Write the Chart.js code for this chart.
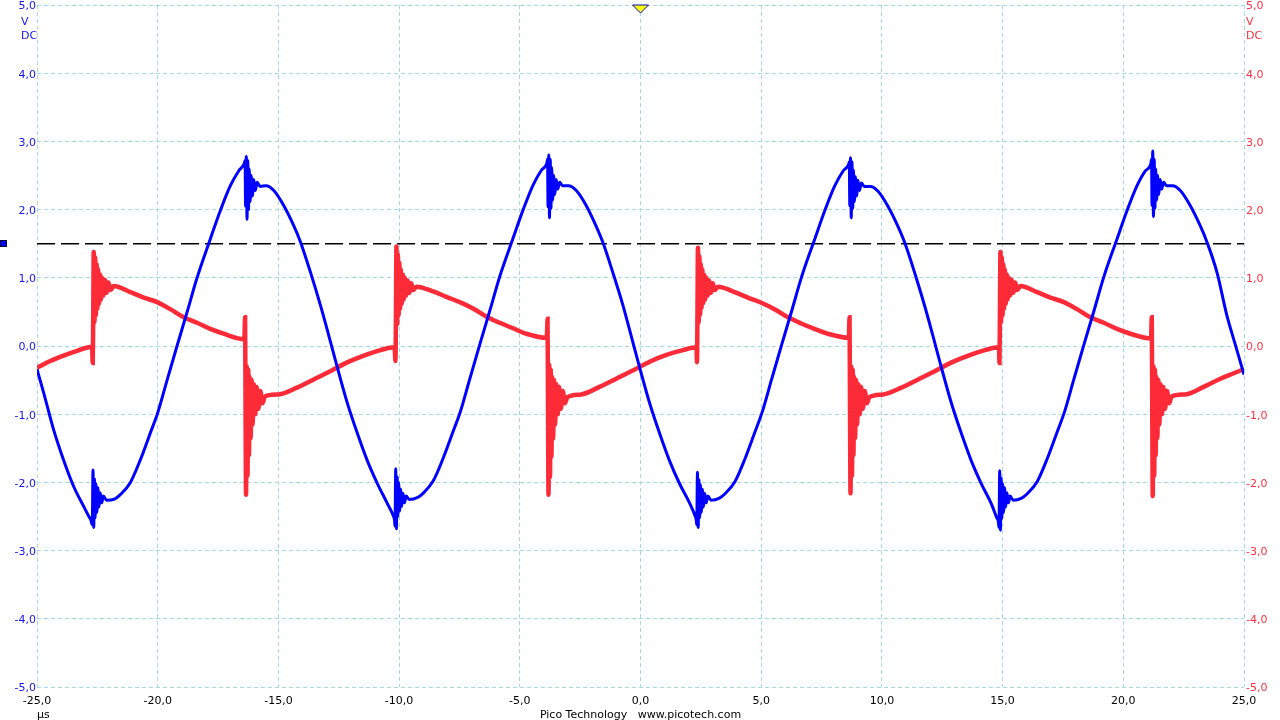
<!DOCTYPE html>
<html>
<head>
<meta charset="utf-8">
<script src="https://cdn.jsdelivr.net/npm/chart.js@4.4.1/dist/chart.umd.min.js"></script>
<style>
  html, body { margin: 0; padding: 0; background: #fff; }
  #scope { display: block; }
</style>
</head>
<body>
<canvas id="scope" width="1280" height="720"></canvas>
<script>
// ── Data (time in µs, volts) ─────────────────────────
const xTickLabels = ['-25,0', '-20,0', '-15,0', '-10,0', '-5,0', '0,0', '5,0', '10,0', '15,0', '20,0', '25,0'];
const yTickLabels = ['-5,0', '-4,0', '-3,0', '-2,0', '-1,0', '0,0', '1,0', '2,0', '3,0', '4,0', '5,0'];
const triggerLevel = 1.5;
const triggerTime = 0;

// Channel A (blue)
const blueTrace = [
  [-25, -0.34], [-24.72, -0.69], [-24.31, -1.23], [-23.9, -1.67], [-23.48, -2.06], [-23.07, -2.35], [-22.85, -2.5],
  // cycle 1
  [-22.77, -2.55], [-22.71, -2.62], [-22.68, -1.82], [-22.65, -2.66], [-22.62, -1.95], [-22.59, -2.52], [-22.56, -2.02],
  [-22.52, -2.44], [-22.48, -2.08], [-22.43, -2.36], [-22.38, -2.15], [-22.32, -2.3], [-22.25, -2.2], [-22.12, -2.26],
  [-21.77, -2.24], [-21.55, -2.18], [-21.13, -2.0], [-20.72, -1.67], [-20.3, -1.27], [-20.0, -0.98], [-19.61, -0.5],
  [-19.2, 0.0], [-18.78, 0.5], [-18.37, 1.0], [-17.82, 1.57], [-17.4, 1.99], [-16.99, 2.35], [-16.64, 2.57], [-16.42, 2.67],
  [-16.38, 2.72], [-16.36, 2.05], [-16.33, 2.78], [-16.3, 1.86], [-16.27, 2.72], [-16.24, 2.0], [-16.21, 2.6],
  [-16.17, 2.12], [-16.13, 2.5], [-16.08, 2.2], [-16.02, 2.44], [-15.96, 2.28], [-15.88, 2.4], [-15.76, 2.34],
  [-15.51, 2.35], [-15.19, 2.28], [-14.78, 2.06], [-14.36, 1.76], [-14.09, 1.53], [-13.67, 1.08], [-13.26, 0.6],
  [-12.91, 0.15], [-12.57, -0.3], [-12.15, -0.83], [-11.74, -1.27], [-11.33, -1.67], [-10.91, -2.01], [-10.5, -2.3], [-10.23, -2.5],
  // cycle 2
  [-10.19, -2.55], [-10.17, -2.64], [-10.14, -1.8], [-10.11, -2.68], [-10.08, -1.92], [-10.05, -2.5], [-10.02, -2.0],
  [-9.98, -2.42], [-9.94, -2.1], [-9.89, -2.35], [-9.84, -2.16], [-9.78, -2.3], [-9.71, -2.2], [-9.58, -2.25],
  [-9.23, -2.22], [-9.01, -2.16], [-8.59, -1.98], [-8.18, -1.65], [-7.76, -1.25], [-7.46, -0.96], [-7.07, -0.48],
  [-6.66, 0.02], [-6.24, 0.52], [-5.83, 1.02], [-5.28, 1.58], [-4.86, 2.0], [-4.45, 2.36], [-4.1, 2.58], [-3.88, 2.68],
  [-3.85, 2.74], [-3.83, 2.04], [-3.8, 2.8], [-3.77, 1.88], [-3.74, 2.74], [-3.71, 2.02], [-3.68, 2.62],
  [-3.64, 2.14], [-3.6, 2.5], [-3.55, 2.22], [-3.49, 2.44], [-3.43, 2.3], [-3.35, 2.4], [-3.23, 2.35],
  [-2.98, 2.35], [-2.66, 2.28], [-2.25, 2.06], [-1.83, 1.75], [-1.56, 1.52], [-1.14, 1.07], [-0.73, 0.6],
  [-0.38, 0.14], [-0.04, -0.31], [0.38, -0.84], [0.79, -1.28], [1.2, -1.68], [1.62, -2.02], [2.03, -2.3], [2.27, -2.5],
  // cycle 3
  [2.31, -2.55], [2.33, -2.62], [2.36, -1.85], [2.39, -2.66], [2.42, -1.96], [2.45, -2.52], [2.48, -2.03],
  [2.52, -2.44], [2.56, -2.1], [2.61, -2.36], [2.66, -2.16], [2.72, -2.3], [2.79, -2.2], [2.92, -2.26],
  [3.27, -2.23], [3.49, -2.17], [3.91, -1.99], [4.32, -1.66], [4.74, -1.26], [5.04, -0.97], [5.43, -0.49],
  [5.84, 0.01], [6.26, 0.51], [6.67, 1.01], [7.22, 1.57], [7.64, 1.99], [8.05, 2.35], [8.4, 2.57], [8.62, 2.66],
  [8.65, 2.7], [8.67, 2.06], [8.7, 2.76], [8.73, 1.88], [8.76, 2.7], [8.79, 2.02], [8.82, 2.58],
  [8.86, 2.12], [8.9, 2.48], [8.95, 2.2], [9.01, 2.43], [9.07, 2.28], [9.15, 2.39], [9.27, 2.34],
  [9.52, 2.34], [9.84, 2.27], [10.25, 2.05], [10.67, 1.75], [10.94, 1.52], [11.36, 1.07], [11.77, 0.59],
  [12.12, 0.14], [12.46, -0.31], [12.88, -0.84], [13.29, -1.28], [13.7, -1.68], [14.12, -2.02], [14.53, -2.31], [14.76, -2.52],
  // cycle 4
  [14.82, -2.57], [14.85, -2.66], [14.88, -1.83], [14.91, -2.7], [14.94, -1.94], [14.97, -2.53], [15.0, -2.02],
  [15.04, -2.44], [15.08, -2.08], [15.13, -2.36], [15.18, -2.15], [15.24, -2.3], [15.31, -2.2], [15.44, -2.26],
  [15.79, -2.23], [16.01, -2.17], [16.43, -1.99], [16.84, -1.66], [17.26, -1.26], [17.56, -0.97], [17.95, -0.49],
  [18.36, 0.01], [18.78, 0.51], [19.19, 1.01], [19.74, 1.57], [20.16, 1.99], [20.57, 2.35], [20.92, 2.57], [21.14, 2.67],
  [21.17, 2.74], [21.19, 2.06], [21.22, 2.86], [21.25, 1.9], [21.28, 2.74], [21.31, 2.02], [21.34, 2.6],
  [21.38, 2.14], [21.42, 2.5], [21.47, 2.22], [21.53, 2.44], [21.59, 2.3], [21.67, 2.4], [21.79, 2.35],
  [22.04, 2.35], [22.36, 2.28], [22.77, 2.06], [23.19, 1.76], [23.46, 1.53], [23.88, 1.08], [24.29, 0.45],
  [24.64, 0.02], [25.0, -0.42],
];

// Channel B (red)
const redTrace = [
  [-25, -0.32], [-24.45, -0.22], [-23.9, -0.14], [-23.34, -0.07], [-22.72, -0.01],
  // cycle 1
  [-22.69, -0.25], [-22.67, 0.5], [-22.65, 1.38], [-22.62, 0.35], [-22.59, 1.3], [-22.56, 0.45], [-22.53, 1.2],
  [-22.5, 0.55], [-22.47, 1.12], [-22.43, 0.62], [-22.39, 1.05], [-22.35, 0.68], [-22.3, 1.0], [-22.25, 0.74],
  [-22.19, 0.97], [-22.12, 0.78], [-22.04, 0.93], [-21.95, 0.82], [-21.82, 0.88],
  [-21.13, 0.79], [-20.58, 0.71], [-20.0, 0.64], [-19.48, 0.54], [-18.92, 0.42], [-18.37, 0.34], [-17.82, 0.25],
  [-17.27, 0.18], [-16.41, 0.1],
  [-16.38, 0.42], [-16.36, -1.0], [-16.34, -2.18], [-16.31, -0.3], [-16.28, -1.9], [-16.25, -0.35], [-16.22, -1.6],
  [-16.19, -0.45], [-16.15, -1.35], [-16.11, -0.5], [-16.07, -1.15], [-16.02, -0.56], [-15.96, -1.0], [-15.9, -0.6],
  [-15.83, -0.92], [-15.75, -0.66], [-15.66, -0.84], [-15.56, -0.74],
  [-14.99, -0.71], [-14.23, -0.61], [-13.54, -0.49], [-12.85, -0.37], [-12.15, -0.24], [-11.46, -0.14], [-10.77, -0.06], [-10.19, -0.02],
  // cycle 2
  [-10.15, -0.22], [-10.13, 0.5], [-10.11, 1.46], [-10.08, 0.32], [-10.05, 1.34], [-10.02, 0.45], [-9.99, 1.22],
  [-9.96, 0.55], [-9.93, 1.12], [-9.89, 0.62], [-9.85, 1.05], [-9.81, 0.68], [-9.76, 1.0], [-9.71, 0.74],
  [-9.65, 0.96], [-9.58, 0.78], [-9.5, 0.92], [-9.41, 0.82], [-9.28, 0.87],
  [-8.59, 0.8], [-8.04, 0.72], [-7.46, 0.64], [-6.94, 0.55], [-6.38, 0.43], [-5.83, 0.34], [-5.28, 0.26],
  [-4.73, 0.18], [-3.88, 0.12],
  [-3.85, 0.4], [-3.83, -1.0], [-3.81, -2.18], [-3.78, -0.28], [-3.75, -1.92], [-3.72, -0.35], [-3.69, -1.62],
  [-3.66, -0.45], [-3.62, -1.36], [-3.58, -0.5], [-3.54, -1.15], [-3.49, -0.56], [-3.43, -1.0], [-3.37, -0.6],
  [-3.3, -0.92], [-3.22, -0.66], [-3.13, -0.84], [-3.03, -0.75],
  [-2.46, -0.71], [-1.7, -0.6], [-1.01, -0.48], [-0.32, -0.36], [0.38, -0.23], [1.07, -0.13], [1.76, -0.06], [2.32, -0.02],
  // cycle 3
  [2.34, -0.24], [2.36, 0.5], [2.38, 1.44], [2.41, 0.34], [2.44, 1.32], [2.47, 0.46], [2.5, 1.2],
  [2.53, 0.56], [2.56, 1.12], [2.6, 0.63], [2.64, 1.04], [2.68, 0.68], [2.73, 1.0], [2.78, 0.74],
  [2.84, 0.96], [2.91, 0.78], [2.99, 0.92], [3.08, 0.82], [3.21, 0.87],
  [3.9, 0.79], [4.45, 0.71], [5.03, 0.63], [5.55, 0.54], [6.11, 0.42], [6.66, 0.33], [7.21, 0.25],
  [7.76, 0.18], [8.63, 0.12],
  [8.66, 0.42], [8.68, -1.0], [8.7, -2.16], [8.73, -0.3], [8.76, -1.9], [8.79, -0.35], [8.82, -1.6],
  [8.85, -0.45], [8.89, -1.35], [8.93, -0.5], [8.97, -1.15], [9.02, -0.56], [9.08, -1.0], [9.14, -0.6],
  [9.21, -0.92], [9.29, -0.66], [9.38, -0.84], [9.48, -0.75],
  [10.05, -0.71], [10.81, -0.61], [11.5, -0.49], [12.19, -0.37], [12.89, -0.24], [13.58, -0.14], [14.27, -0.06], [14.85, -0.02],
  // cycle 4
  [14.87, -0.25], [14.89, 0.5], [14.91, 1.38], [14.94, 0.35], [14.97, 1.3], [15.0, 0.45], [15.03, 1.2],
  [15.06, 0.55], [15.09, 1.12], [15.13, 0.62], [15.17, 1.05], [15.21, 0.68], [15.26, 1.0], [15.31, 0.74],
  [15.37, 0.97], [15.44, 0.78], [15.52, 0.93], [15.61, 0.82], [15.74, 0.88],
  [16.43, 0.79], [16.98, 0.71], [17.56, 0.64], [18.08, 0.54], [18.64, 0.42], [19.19, 0.34], [19.74, 0.25],
  [20.29, 0.18], [21.15, 0.11],
  [21.18, 0.42], [21.2, -1.0], [21.22, -2.2], [21.25, -0.3], [21.28, -1.9], [21.31, -0.35], [21.34, -1.6],
  [21.37, -0.45], [21.41, -1.35], [21.45, -0.5], [21.49, -1.15], [21.54, -0.56], [21.6, -1.0], [21.66, -0.6],
  [21.73, -0.92], [21.81, -0.66], [21.9, -0.84], [22.0, -0.74],
  [22.57, -0.71], [23.33, -0.6], [24.02, -0.48], [24.5, -0.41], [25.0, -0.34],
];

// ── Styling ────────────────────────────────────────────────────────────────
const BLUE  = '#0000ff';
const RED   = '#fd2a38';
const GRID  = '#a6d9e6';
const FONT  = { family: 'DejaVu Sans', size: 11 };

const pts = arr => arr.map(([x, y]) => ({ x, y }));

// extra captions + trigger markers, positioned through the scales
const scopeDecor = {
  id: 'scopeDecor',
  afterDraw(chart) {
    const { ctx, scales: { x, y } } = chart;
    const area = chart.chartArea;
    ctx.save();
    ctx.font = '11px "DejaVu Sans"';
    ctx.textBaseline = 'middle';

    ctx.fillStyle = '#1414f0';
    ctx.textAlign = 'left';
    ctx.fillText('V', 21, 22);
    ctx.fillText('DC', 21, 36);

    ctx.fillStyle = '#ff3040';
    ctx.fillText('V', area.right + 2, 22);
    ctx.fillText('DC', area.right + 2, 36);

    ctx.fillStyle = '#000';
    ctx.fillText('µs', area.left, 715);
    ctx.textAlign = 'center';
    ctx.fillText('Pico Technology   www.picotech.com', (area.left + area.right) / 2, 715);

    // trigger time marker
    const tx = x.getPixelForValue(triggerTime);
    ctx.beginPath();
    ctx.moveTo(tx - 8, area.top);
    ctx.lineTo(tx + 8, area.top);
    ctx.lineTo(tx, area.top + 8);
    ctx.closePath();
    ctx.fillStyle = '#ffff00';
    ctx.fill();
    ctx.strokeStyle = '#0000cc';
    ctx.lineWidth = 1;
    ctx.stroke();

    // trigger level marker
    const ty = Math.round(y.getPixelForValue(triggerLevel));
    ctx.fillStyle = BLUE;
    ctx.fillRect(0.5, ty - 3.5, 6, 6);
    ctx.strokeStyle = '#000033';
    ctx.strokeRect(0.5, ty - 3.5, 6, 6);
    ctx.restore();
  },
};

new Chart(document.getElementById('scope').getContext('2d'), {
  type: 'line',
  data: {
    datasets: [
      {
        label: 'A', data: pts(blueTrace),
        borderColor: BLUE, borderWidth: 3, pointRadius: 0,
        cubicInterpolationMode: 'monotone', yAxisID: 'y',
      },
      {
        label: 'B', data: pts(redTrace),
        borderColor: RED, borderWidth: 4.5, pointRadius: 0,
        cubicInterpolationMode: 'monotone', yAxisID: 'y',
      },
      {
        label: 'Trigger', data: [{ x: -25, y: triggerLevel }, { x: 25, y: triggerLevel }],
        borderColor: '#000', borderWidth: 1.5, borderDash: [18, 6], pointRadius: 0, yAxisID: 'y',
      },
    ],
  },
  options: {
    responsive: false, animation: false, devicePixelRatio: 1,
    layout: { padding: { top: 5, left: 0, right: 0, bottom: 0 } },
    plugins: { legend: { display: false }, tooltip: { enabled: false } },
    scales: {
      x: {
        type: 'linear', min: -25, max: 25,
        ticks: {
          stepSize: 5, autoSkip: false, maxRotation: 0, padding: 8,
          color: '#000', font: FONT,
          callback: (v, i) => xTickLabels[i],
        },
        grid: { color: GRID, lineWidth: 1, drawTicks: false },
        border: { display: false, dash: [4, 3] },
        afterFit: s => { s.height = 33; s.paddingLeft = 0; s.paddingRight = 0; },
      },
      y: {
        type: 'linear', position: 'left', min: -5, max: 5,
        ticks: {
          stepSize: 1, padding: 1, labelOffset: 1.5, color: '#1414f0', font: FONT,
          callback: (v, i) => yTickLabels[i],
        },
        grid: { color: GRID, lineWidth: 1, drawTicks: false },
        border: { display: false, dash: [4, 3] },
        afterFit: s => { s.width = 37; s.paddingTop = 0; s.paddingBottom = 0; },
      },
      y2: {
        type: 'linear', position: 'right', min: -5, max: 5,
        ticks: {
          stepSize: 1, padding: 2, labelOffset: 1.5, color: '#ff3040', font: FONT,
          callback: (v, i) => yTickLabels[i],
        },
        grid: { display: false, drawTicks: false },
        border: { display: false },
        afterFit: s => { s.width = 36; s.paddingTop = 0; s.paddingBottom = 0; },
      },
    },
  },
  plugins: [scopeDecor],
});
</script>
</body>
</html>
